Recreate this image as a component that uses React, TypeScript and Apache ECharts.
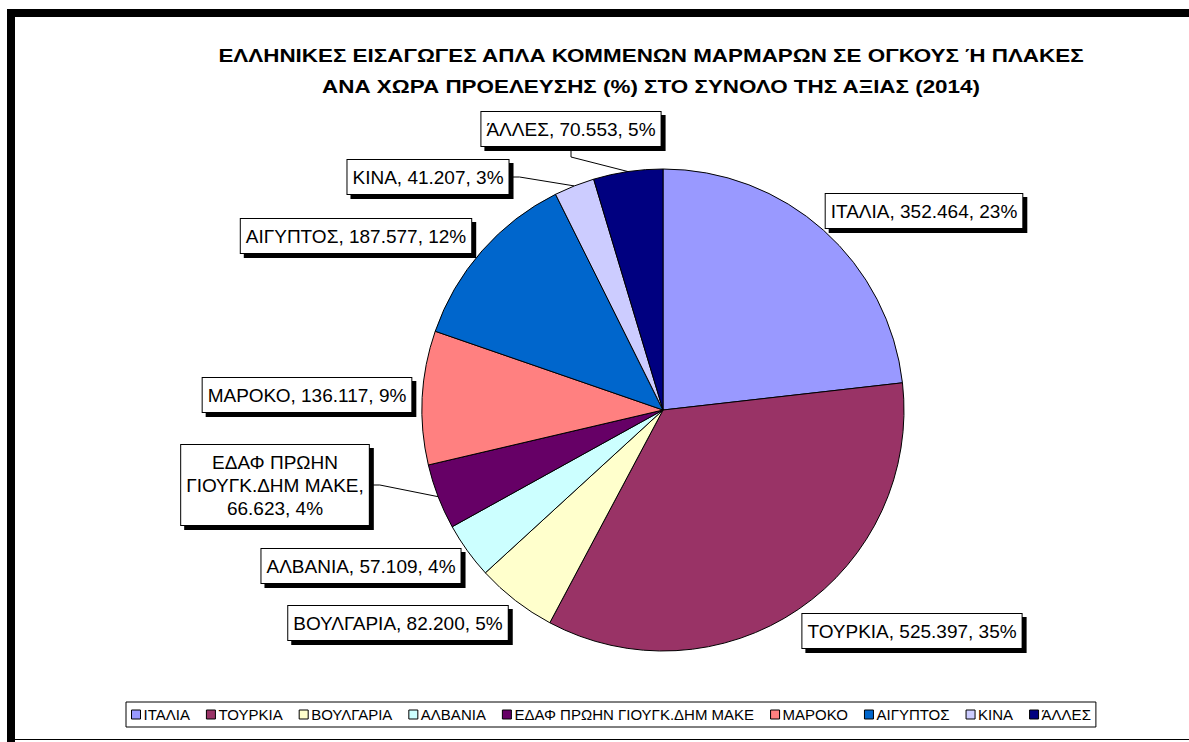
import React, { useEffect, useRef } from "react";
import * as echarts from "echarts";

const categories = [
  "ΙΤΑΛΙΑ",
  "ΤΟΥΡΚΙΑ",
  "ΒΟΥΛΓΑΡΙΑ",
  "ΑΛΒΑΝΙΑ",
  "ΕΔΑΦ ΠΡΩΗΝ ΓΙΟΥΓΚ.ΔΗΜ ΜΑΚΕ",
  "ΜΑΡΟΚΟ",
  "ΑΙΓΥΠΤΟΣ",
  "ΚΙΝΑ",
  "ΆΛΛΕΣ",
];
const values = [352464, 525397, 82200, 57109, 66623, 136117, 187577, 41207, 70553];

const colors = ["#9999FF", "#993366", "#FFFFCC", "#CCFFFF", "#660066", "#FF8080", "#0066CC", "#CCCCFF", "#000080"];
const titleLines = [
  "ΕΛΛΗΝΙΚΕΣ ΕΙΣΑΓΩΓΕΣ ΑΠΛΑ ΚΟΜΜΕΝΩΝ ΜΑΡΜΑΡΩΝ ΣΕ ΟΓΚΟΥΣ Ή ΠΛΑΚΕΣ",
  "ΑΝΑ ΧΩΡΑ ΠΡΟΕΛΕΥΣΗΣ (%) ΣΤΟ ΣΥΝΟΛΟ ΤΗΣ ΑΞΙΑΣ (2014)",
];

// label layout (centers of label boxes, in px)
const labelPos: [number, number][] = [
  [924, 211],
  [912, 631],
  [398, 623],
  [361, 566],
  [275, 485],
  [307, 395],
  [356, 236],
  [428, 177],
  [571, 129],
];
const showLine = [false, false, false, false, true, false, false, true, true];

const FONT = "'Liberation Sans', Arial, Helvetica, sans-serif";

function fmt(v: number) {
  return v.toString().replace(/\B(?=(\d{3})+(?!\d))/g, ".");
}

function labelText(p: any) {
  if (p.name === "ΕΔΑΦ ΠΡΩΗΝ ΓΙΟΥΓΚ.ΔΗΜ ΜΑΚΕ") {
    return "ΕΔΑΦ ΠΡΩΗΝ\nΓΙΟΥΓΚ.ΔΗΜ ΜΑΚΕ,\n" + fmt(p.value) + ", " + p.percent + "%";
  }
  return p.name + ", " + fmt(p.value) + ", " + p.percent + "%";
}

export default function App() {
  const ref = useRef<HTMLDivElement>(null);
  useEffect(() => {
    if (!ref.current) return;
    const chart = echarts.init(ref.current, undefined, { renderer: "svg" });
    const option: any = {
      animation: false,
      backgroundColor: "#fff",
      legend: {
        left: 126,
        top: 702,
        orient: "horizontal",
        icon: "rect",
        itemWidth: 9,
        itemHeight: 9,
        itemGap: 16,
        padding: [5, 5],
        borderColor: "#000",
        borderWidth: 1,
        data: categories,
        itemStyle: { borderColor: "#000", borderWidth: 1 },
        textStyle: { fontFamily: FONT, fontSize: 15, color: "#000", padding: [0, 0, 0, -2] },
      },
      graphic: [
        { type: "rect", shape: { x: 7, y: 9, width: 1182, height: 8 }, style: { fill: "#000" } },
        { type: "rect", shape: { x: 7, y: 9, width: 8, height: 733 }, style: { fill: "#000" } },
        { type: "rect", shape: { x: 15, y: 739, width: 1174, height: 1 }, style: { fill: "#000" } },
        ...titleLines.map((t, i) => ({
          type: "text",
          x: 651,
          y: 55 + i * 31,
          scaleX: 1.18,
          style: {
            text: t,
            font: "bold 19px " + FONT,
            fill: "#000",
            align: "center",
            verticalAlign: "middle",
            textAlign: "center",
            textVerticalAlign: "middle",
          },
        })),
      ],
      series: [
        {
          type: "pie",
          center: [663, 410],
          radius: 241,
          startAngle: 90,
          clockwise: true,
          percentPrecision: 0,
          itemStyle: { borderColor: "#000", borderWidth: 1 },
          emphasis: { disabled: true },
          label: {
            show: true,
            fontFamily: FONT,
            fontSize: 19,
            lineHeight: 23,
            padding: [6, 5, 5, 5],
            align: "center",
            color: "#000",
            backgroundColor: "#fff",
            borderColor: "#000",
            borderWidth: 1,
            shadowColor: "#000",
            shadowBlur: 1,
            shadowOffsetX: 4,
            shadowOffsetY: 4,
            formatter: labelText,
          },
          labelLine: {
            show: true,
            length: 10,
            length2: 10,
            lineStyle: { color: "#000", width: 1 },
          },
          labelLayout: (params: any) => {
            const i = params.dataIndex;
            return { x: labelPos[i][0], y: labelPos[i][1], align: "center", verticalAlign: "middle" };
          },
          data: categories.map((c, i) => ({
            name: c,
            value: values[i],
            itemStyle: { color: colors[i] },
            labelLine: { show: showLine[i] },
          })),
        },
      ],
    };
    chart.setOption(option);
    return () => chart.dispose();
  }, []);
  return (
    <div
      ref={ref}
      style={{ position: "fixed", left: 0, top: 0, width: 1189, height: 742, background: "#fff" }}
    />
  );
}
